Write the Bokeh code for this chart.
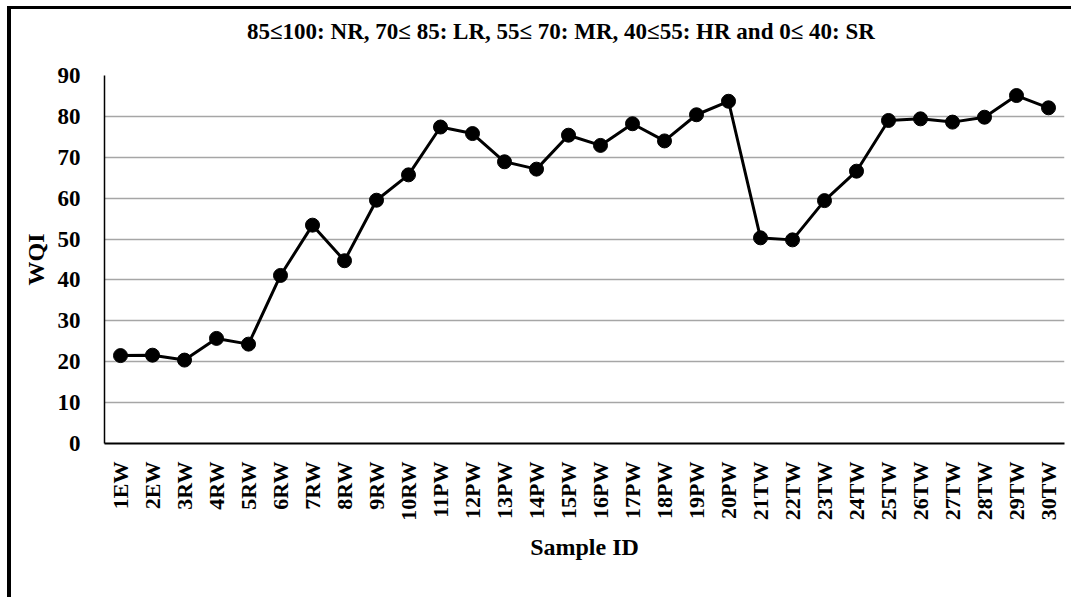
import math
import html
from bokeh.plotting import figure
from bokeh.layouts import column
from bokeh.models import FactorRange, Range1d, Div, ColumnDataSource
from bokeh.embed import file_html
from bokeh.resources import INLINE

samples = ["1EW", "2EW", "3RW", "4RW", "5RW", "6RW", "7RW", "8RW", "9RW", "10RW",
           "11PW", "12PW", "13PW", "14PW", "15PW", "16PW", "17PW", "18PW", "19PW", "20PW",
           "21TW", "22TW", "23TW", "24TW", "25TW", "26TW", "27TW", "28TW", "29TW", "30TW"]
wqi = [21.5, 21.6, 20.4, 25.7, 24.3, 41.1, 53.4, 44.7, 59.5, 65.7,
       77.4, 75.8, 68.9, 67.1, 75.4, 72.9, 78.2, 74.0, 80.4, 83.7,
       50.3, 49.8, 59.4, 66.6, 79.0, 79.4, 78.6, 79.8, 85.1, 82.1]
y_ticks = [0, 10, 20, 30, 40, 50, 60, 70, 80, 90]
title_text = "85\u2264100: NR, 70\u2264 85: LR, 55\u2264 70: MR, 40\u226455: HR and 0\u2264 40: SR"

FONT = "Liberation Serif"

src = ColumnDataSource(dict(x=samples, y=wqi))

title_div = Div(
    text=('<div style="font-family:\'Liberation Serif\';font-weight:bold;font-size:23px;'
          'line-height:36px;padding-left:231px;white-space:nowrap;color:black">'
          + html.escape(title_text) + '</div>'),
    width=1056, height=36)

p = figure(width=1056, height=542, x_range=FactorRange(factors=samples),
           y_range=Range1d(0, 90), output_backend="svg", toolbar_location=None,
           min_border_left=93, min_border_right=3, min_border_top=20, min_border_bottom=154)

p.line("x", "y", source=src, line_color="black", line_width=3)
p.scatter("x", "y", source=src, size=14, fill_color="black", line_color="black")

p.outline_line_color = None
p.xgrid.grid_line_color = None
p.ygrid.grid_line_color = "#a6a6a6"
p.ygrid.grid_line_width = 1.5
p.yaxis.ticker = y_ticks

for ax in (p.xaxis[0], p.yaxis[0]):
    ax.major_tick_line_color = None
    ax.minor_tick_line_color = None
    ax.major_label_text_font = FONT
    ax.major_label_text_font_style = "bold"
    ax.major_label_text_color = "black"
    ax.axis_label_text_font = FONT
    ax.axis_label_text_font_style = "bold"
    ax.axis_label_text_color = "black"
    ax.axis_label_text_font_size = "24px"
    ax.axis_line_color = "black"

p.xaxis.axis_label = "Sample ID"
p.xaxis.axis_line_width = 2
p.xaxis.major_label_orientation = math.pi / 2
p.xaxis.major_label_text_font_size = "22px"
p.xaxis.major_label_standoff = 12
p.xaxis.axis_label_standoff = 10

p.yaxis.axis_label = "WQI"
p.yaxis.axis_line_width = 1.5
p.yaxis.major_label_text_font_size = "23px"
p.yaxis.major_label_standoff = 18
p.yaxis.axis_label_standoff = 6

layout = column(title_div, p)
layout.styles = {"border-left": "4px solid black", "border-top": "3px solid black",
                 "margin-left": "7px", "margin-top": "6px"}

open("out.html", "w").write(file_html(layout, INLINE))
